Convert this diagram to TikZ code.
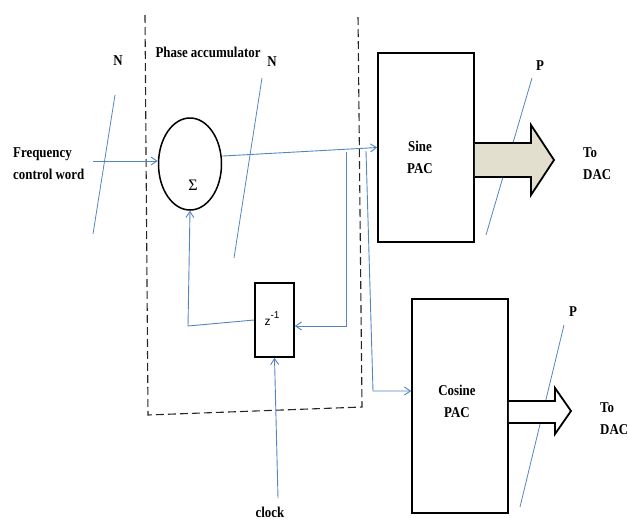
\documentclass[tikz,border=0pt]{standalone}
\usepackage{fontspec}
\setmainfont{Liberation Serif}[FakeStretch=0.86]
\newfontfamily\zfont{Liberation Sans}
\newfontfamily\sigfont{Liberation Serif}
\usetikzlibrary{arrows.meta,shapes.geometric,calc}
\definecolor{wire}{HTML}{5385C2}
\definecolor{beige}{HTML}{E2DFCE}
\begin{document}
\begin{tikzpicture}[x=1pt,y=-1pt,
  lbl/.style={font=\bfseries\fontsize{15}{22}\selectfont, inner sep=0pt, align=center},
  blk/.style={draw=black, line width=1.6pt, inner sep=0pt},
  wireline/.style={draw=wire, line width=0.9pt},
  warrow/.style={wireline, -{Straight Barb[length=6pt,width=8pt]}},
  slash/.style={draw=wire, line width=0.8pt},
  bigarrow/.style={draw=black, line width=1.8pt, line join=miter}]
\useasboundingbox (0,0) rectangle (629,520);
% dashed phase accumulator
\draw[dash pattern=on 8pt off 4pt, line width=1.1pt, black!85]
  (145,15) -- (148,415) -- (362,407) -- (358,15);
\node[lbl] (palbl) at (208,52) {Phase accumulator};
% sum
\node[draw, ellipse, line width=1.5pt, minimum width=63pt, minimum height=92pt, inner sep=0pt] (sum) at (190,164) {};
\node[font=\sigfont\fontsize{16}{17}\selectfont, inner sep=0pt] (sig) at (193,185) {Σ};
% delay
\node[blk, minimum width=39pt, minimum height=74pt] (zbox) at (274.5,320) {};
\node[inner sep=0pt, font=\zfont\fontsize{12}{13}\selectfont] (zt) at (272,319) {z\raisebox{1.1ex}{\fontsize{10}{11}\selectfont -1}};
% PACs
\node[blk, minimum width=96pt, minimum height=189pt] (sine) at (426,147.5) {};
\node[lbl] (sinet) at (420,157) {Sine\\PAC};
\node[blk, minimum width=96pt, minimum height=214pt] (cos) at (460,406) {};
\node[lbl] (cost) at (457,401) {Cosine\\PAC};
% labels
\node[lbl, align=left, anchor=west] (fcw) at (13,164) {Frequency\\control word};
\node[lbl] (n1) at (118,61) {N};
\node[lbl] (n2) at (272,62) {N};
\node[lbl] (p1) at (540,66) {P};
\node[lbl] (p2) at (573,312) {P};
\node[lbl, align=left, anchor=west] (dac1) at (583,164) {To\\DAC};
\node[lbl, align=left, anchor=west] (dac2) at (600,419) {To\\DAC};
\node[lbl] (clk) at (270,512) {clock};
% coordinates
\coordinate (in0) at (93,161);
\coordinate (b1) at (346,152);
\coordinate (b2) at (366,151);
\coordinate (fb1) at (346,326);
\coordinate (cc) at (373,391);
\coordinate (fbl) at (188,326);
\coordinate (ck) at (278,498);
% wires
\draw[warrow] (in0) -- (in0 -| sum.west);
\draw[warrow] (sum.14) -- (sine.west);
\draw[warrow] (b1) -- (fb1) -- (fb1 -| zbox.east);
\draw[warrow] (b2) -- (cc) -- (cc -| cos.west);
\draw[warrow] (zbox.west) -- (fbl) -- (sum.south);
\draw[warrow] (ck) -- (zbox.south);
% bus slashes
\draw[slash] (115,95) -- (93,234);
\draw[slash] (262,78) -- (234,258);
\draw[slash] (532,78) -- (486,235);
\draw[slash] (564,325) -- (520,507);
% big arrows
\draw[bigarrow, fill=beige] (sine.east |- 0,143) -- (531,143) -- (531,125) -- (554,160) -- (531,195) -- (531,177) -- (sine.east |- 0,177);
\draw[bigarrow, fill=white] (cos.east |- 0,401) -- (555,401) -- (555,388) -- (571,411) -- (555,434) -- (555,423) -- (cos.east |- 0,423);
\end{tikzpicture}
\end{document}
